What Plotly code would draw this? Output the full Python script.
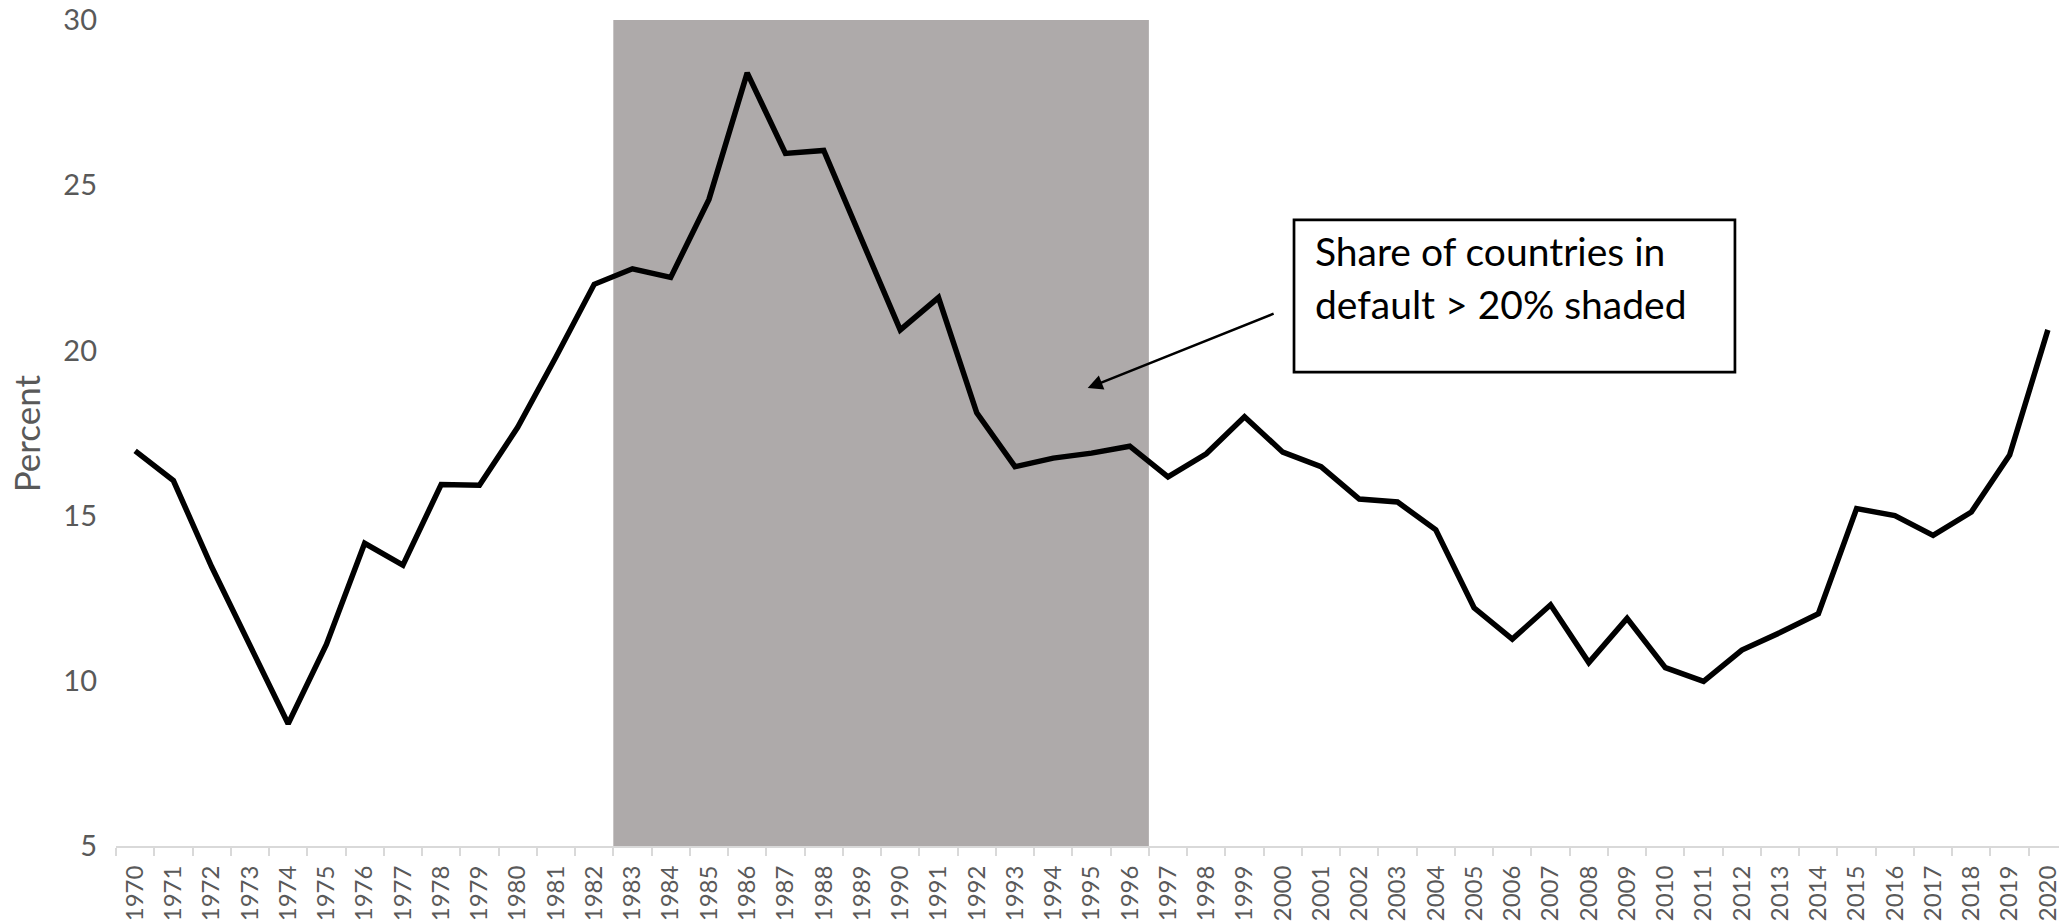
import plotly.graph_objects as go

years = [str(y) for y in range(1970, 2021)]
default_share = [
    16.96, 16.06, 13.45, 11.07, 8.70, 11.10, 14.16, 13.50, 15.94, 15.92,
    17.67, 19.80, 22.00, 22.47, 22.21, 24.57, 28.40, 25.96, 26.05, 23.33,
    20.62, 21.60, 18.11, 16.48, 16.74, 16.89, 17.10, 16.17, 16.87, 17.99,
    16.92, 16.48, 15.50, 15.41, 14.57, 12.21, 11.26, 12.30, 10.55, 11.89,
    10.40, 9.98, 10.93, 11.46, 12.03, 15.21, 15.00, 14.40, 15.11, 16.83,
    20.62,
]
shade_start = "1983"
shade_end = "1996"
y_ticks = [5, 10, 15, 20, 25, 30]
box_lines = ["Share of countries in", "default &gt; 20% shaded"]
y_title = "Percent"

FONT = "Lato"
GRAY_TXT = "#595959"
AXIS_GRAY = "#d9d9d9"

fig = go.Figure()

fig.add_trace(go.Scatter(
    x=years, y=default_share, mode="lines",
    line=dict(color="black", width=5.5),
    showlegend=False, hoverinfo="x+y",
))

i0 = years.index(shade_start) - 0.5
i1 = years.index(shade_end) + 0.5
fig.add_shape(type="rect", xref="x", yref="paper", x0=i0, x1=i1, y0=0, y1=1,
              fillcolor="#AEAAAA", line=dict(width=0), layer="below")

# text box
fig.add_shape(type="rect", xref="paper", yref="paper",
              x0=0.6038, x1=0.8298, y0=0.5738, y1=0.7579,
              fillcolor="white", line=dict(color="black", width=2.7), layer="above")
for line_txt, ybot in zip(box_lines, [0.6897, 0.6255]):
    fig.add_annotation(xref="paper", yref="paper", x=0.6135, y=ybot,
                       xanchor="left", yanchor="bottom", align="left", showarrow=False,
                       text=line_txt, font=dict(family=FONT, size=39, color="black"))

# arrow
fig.add_annotation(xref="x", yref="y", x=24.9, y=18.86,
                   axref="x", ayref="y", ax=29.80, ay=21.13,
                   text="", showarrow=True, arrowhead=2, arrowsize=1.2,
                   arrowwidth=2.5, arrowcolor="black")

# y-axis title
fig.add_annotation(xref="paper", yref="paper", x=-0.046, y=0.5,
                   xanchor="center", yanchor="middle", textangle=-90,
                   showarrow=False, text=y_title,
                   font=dict(family=FONT, size=35, color=GRAY_TXT))

fig.update_layout(
    width=2059, height=914,
    margin=dict(l=108, r=0, t=12, b=76),
    paper_bgcolor="white", plot_bgcolor="white",
    xaxis=dict(
        type="category", categoryorder="array", categoryarray=years,
        range=[-0.5, len(years) - 0.5], automargin=False,
        showline=True, linecolor=AXIS_GRAY, linewidth=2,
        ticks="outside", tickson="boundaries", ticklen=8,
        tickcolor=AXIS_GRAY, tickwidth=1.5, ticklabelstandoff=8,
        ticklabeloverflow="allow",
        tickangle=-90, tickfont=dict(family=FONT, size=24, color=GRAY_TXT),
        showgrid=False, zeroline=False,
    ),
    yaxis=dict(
        range=[5, 30], tickvals=y_ticks, ticktext=[str(t) for t in y_ticks],
        automargin=False, ticklabeloverflow="allow",
        showgrid=False, showline=False, zeroline=False, ticks="",
        ticklabelstandoff=18,
        tickfont=dict(family=FONT, size=29, color=GRAY_TXT),
    ),
)

fig.write_html("out.html")
